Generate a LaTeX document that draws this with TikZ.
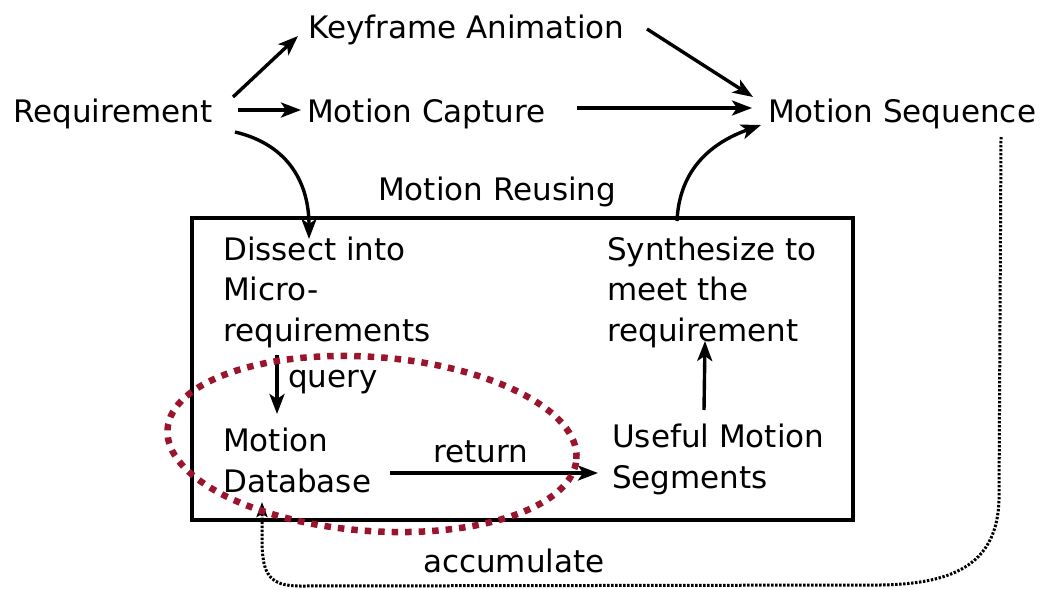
\documentclass[tikz,border=0pt]{standalone}
\usepackage{fontspec}
\setmainfont{DejaVu Sans}
\usetikzlibrary{arrows.meta,shapes.geometric}
\definecolor{loopred}{RGB}{155,20,45}
\begin{document}
\begin{tikzpicture}[x=1pt,y=-1pt,
  lbl/.style={anchor=base west,inner sep=0pt,align=left,font=\fontsize{31}{40.5}\selectfont},
  arr/.style={line width=3.4pt,-{Stealth[length=20pt,width=15pt,inset=5pt]}},
  dotarr/.style={line width=3pt,dash pattern=on 2.4pt off 1.6pt,-{Stealth[length=15pt,width=11pt,inset=3pt]}}]
\useasboundingbox (0,0) rectangle (1048,589);
% process box
\draw[line width=3.8pt] (192,218) rectangle (853,520);
% labels (multi-line labels are placed by the baseline of their last line)
\node[lbl] (req) at (13,122) {Requirement};
\node[lbl] (key) at (308,38) {Keyframe Animation};
\node[lbl] (cap) at (307,122) {Motion Capture};
\node[lbl] (seq) at (768,122) {Motion Sequence};
\node[lbl] (reuse) at (378,200) {Motion Reusing};
\node[lbl] (dis) at (223,341) {Dissect into\\Micro-\\requirements};
\node[lbl] (syn) at (607,341) {Synthesize to\\meet the\\requirement};
\node[lbl] (query) at (288,387) {query};
\node[lbl] (db) at (223,492) {Motion\\Database};
\node[lbl] (ret) at (433,462) {return};
\node[lbl] (seg) at (612,488) {Useful Motion\\Segments};
\node[lbl] (acc) at (423,572) {accumulate};
% connection points
\coordinate (r1) at (233,97);   \coordinate (k0) at (298,36);
\coordinate (r2) at (238,110);  \coordinate (c0) at (301,110);
\coordinate (r3) at (235,132);  \coordinate (d0) at (309,239);
\coordinate (k1) at (647,29);   \coordinate (s1) at (753,97);
\coordinate (c1) at (577,108);  \coordinate (s2) at (752,108);
\coordinate (y1) at (677,221);  \coordinate (s3) at (761,125);
\coordinate (d1) at (277,355);  \coordinate (b0) at (277,414);
\coordinate (b1) at (390,473);  \coordinate (g0) at (598,473);
\coordinate (g1) at (704,410);  \coordinate (y0) at (705,341);
\coordinate (s4) at (1001,137); \coordinate (b2) at (262,502);
% arrows
\draw[arr] (r1) -- (k0);
\draw[arr] (r2) -- (c0);
\draw[arr] (r3) .. controls (290,145) and (309,185) .. (d0);
\draw[arr] (k1) -- (s1);
\draw[arr] (c1) -- (s2);
\draw[arr] (y1) .. controls (679,175) and (705,145) .. (s3);
\draw[arr] (d1) -- (b0);
\draw[arr] (b1) -- (g0);
\draw[arr] (g1) -- (y0);
% feedback loop
\draw[dotarr] (s4) -- (999,500) .. controls (997,560) and (960,584) .. (880,585)
  -- (300,586) .. controls (270,586) and (262,575) .. (262,540) -- (b2);
% highlighted database region
\node[ellipse,draw=loopred,line width=6.5pt,dash pattern=on 6.5pt off 7pt,
  minimum width=410pt,minimum height=174pt,rotate=-4.2,inner sep=0pt] (hl) at (372,444) {};
\end{tikzpicture}
\end{document}
